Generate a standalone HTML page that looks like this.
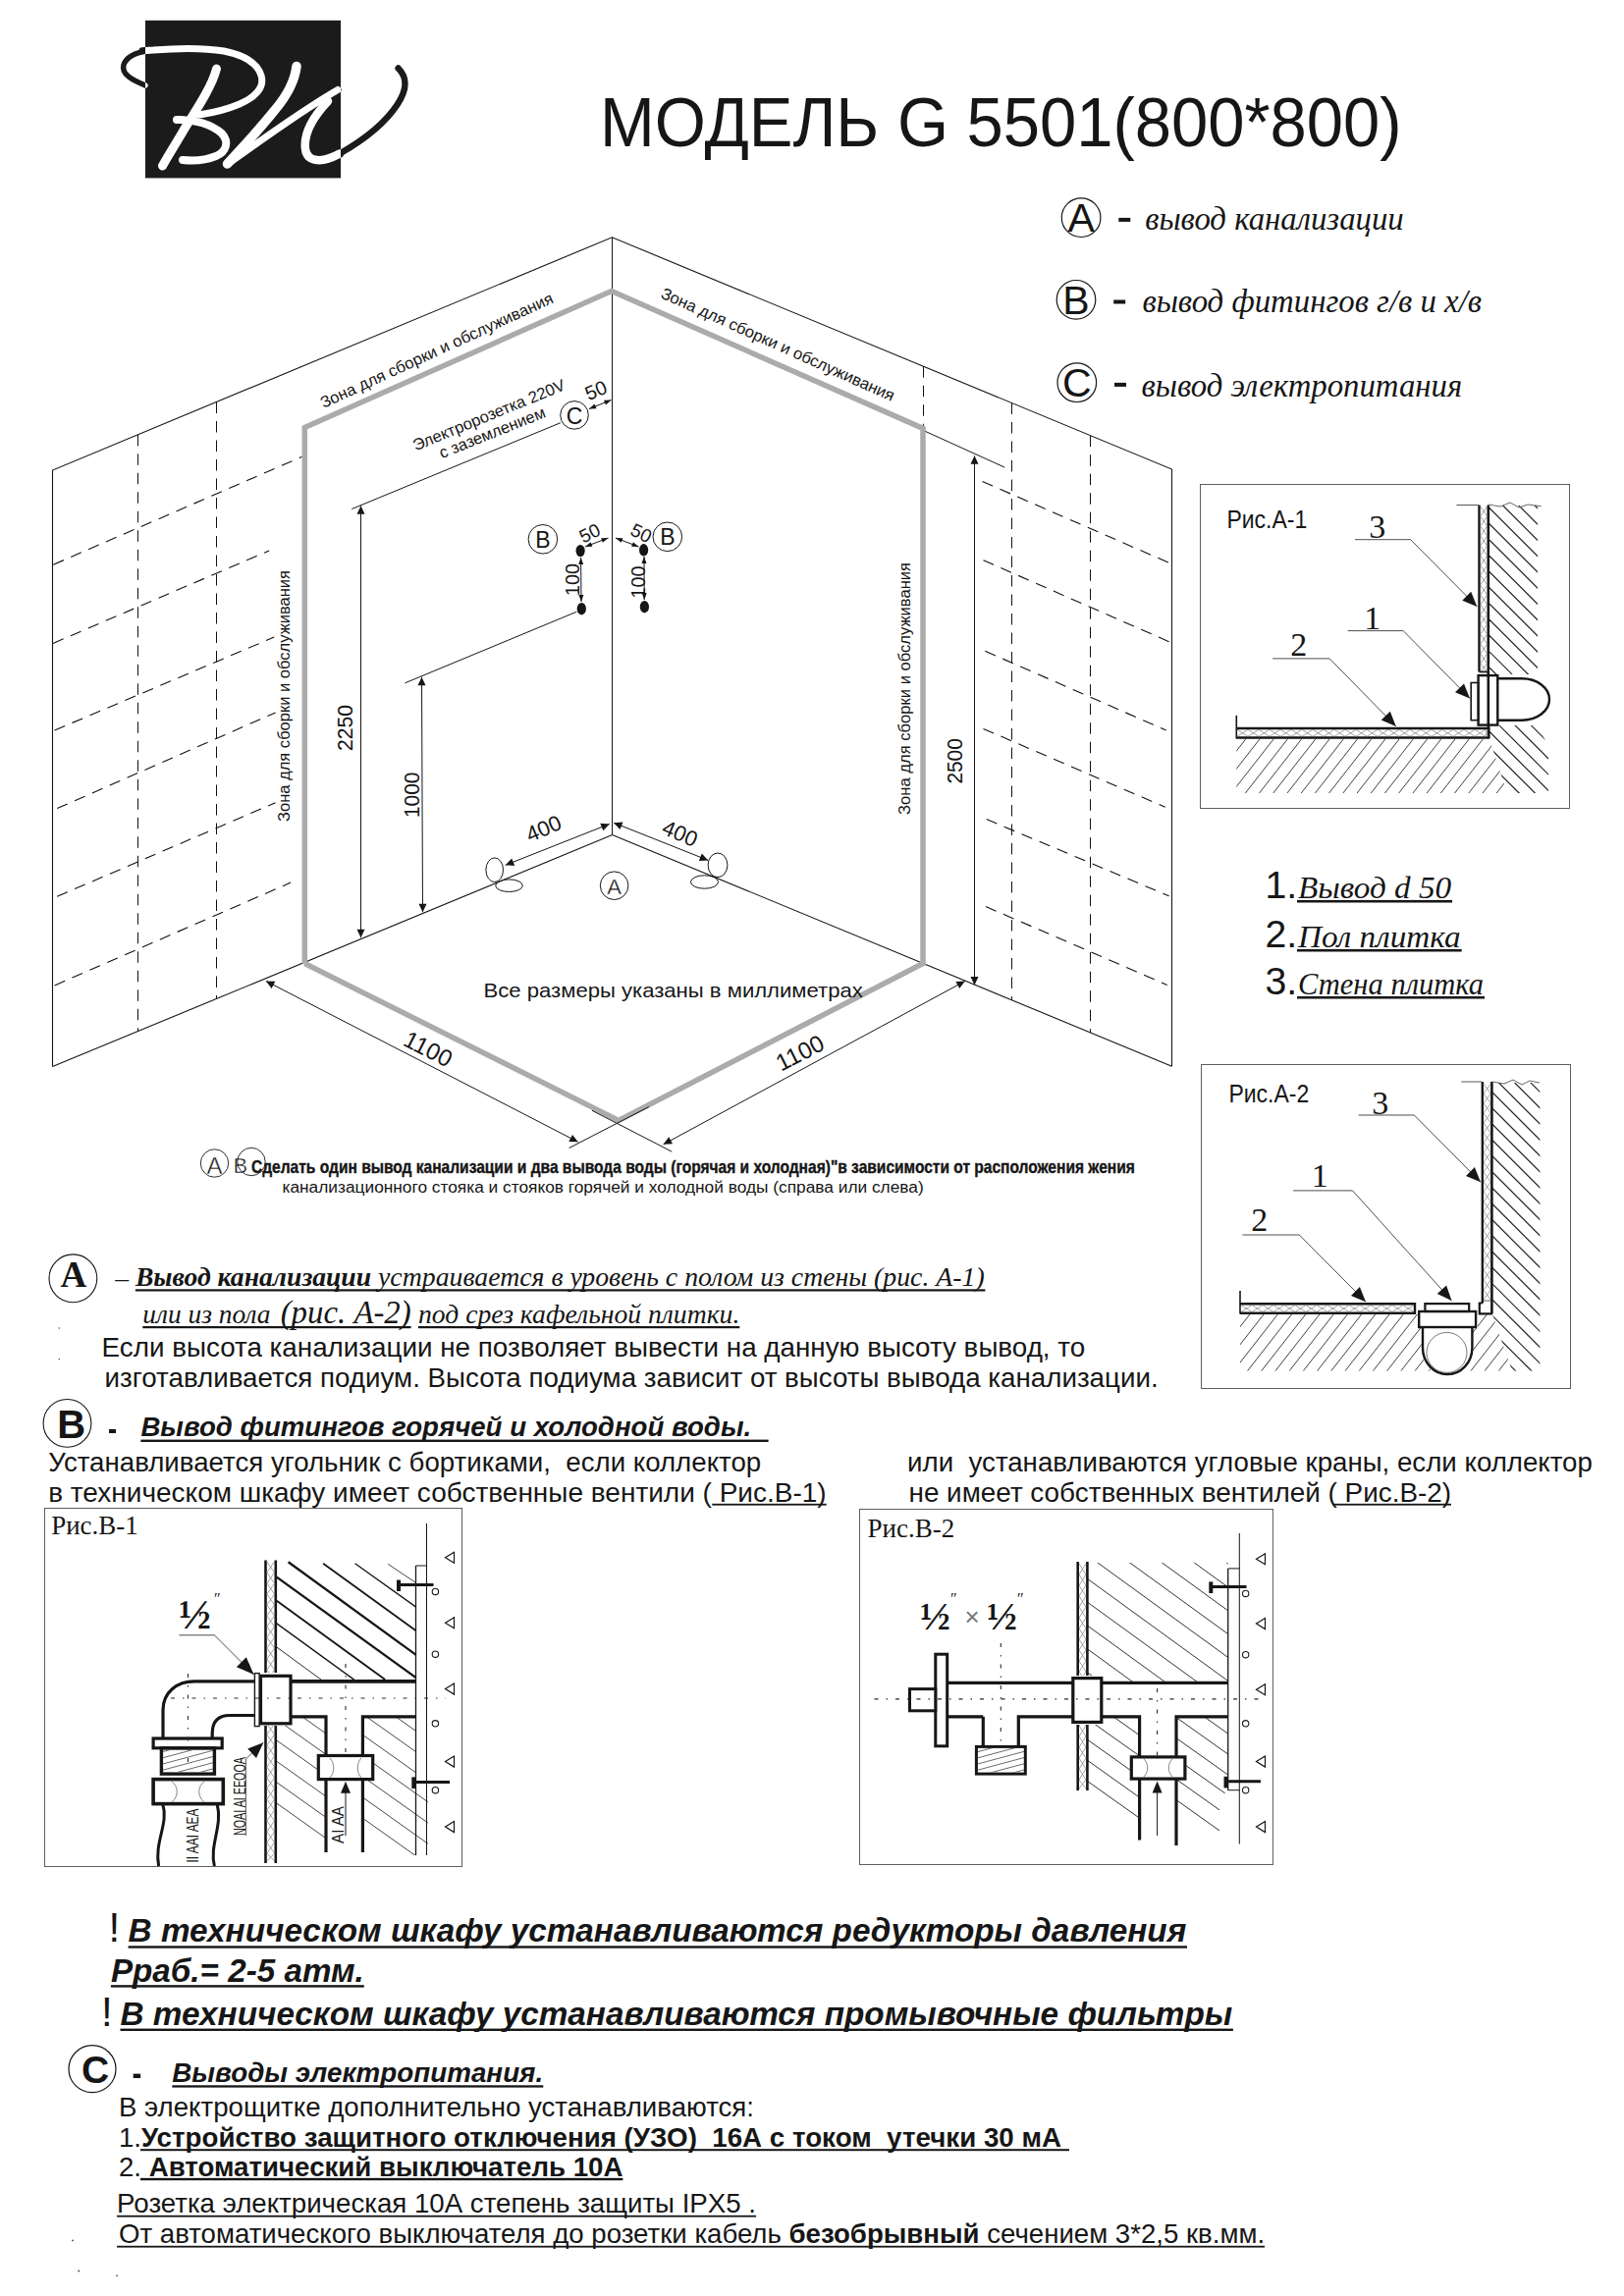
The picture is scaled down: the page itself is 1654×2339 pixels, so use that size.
<!DOCTYPE html>
<html><head><meta charset="utf-8"><title>Модель G 5501</title>
<style>
html,body{margin:0;padding:0;background:#fff;}
body{width:1654px;height:2339px;overflow:hidden;font-family:"Liberation Sans",sans-serif;}
svg{display:block;}
text{white-space:pre;}
</style></head>
<body>
<svg width="1654" height="2339" viewBox="0 0 1654 2339">
<rect x="0" y="0" width="1654" height="2339" fill="#fff"/>
<defs><clipPath id="lr"><rect x="148" y="20.8" width="199" height="160.6"/></clipPath><clipPath id="lo"><path d="M0,0 H460 V220 H0 Z M148,20.8 V181.4 H347 V20.8 Z" clip-rule="evenodd"/></clipPath></defs>
<rect x="148.0" y="20.8" width="199.0" height="160.6" fill="#1b1b1b" stroke="none" stroke-width="0"/>
<g stroke="#1b1b1b" clip-path="url(#lo)"><path d="M145,51.8 C150,51.3 153,51.1 156,51 C180,49 204,48 228,52 C248,56 262,64 266,77 C270,90 258,100 244,106 C230,112 216,115 203,117" fill="none" stroke-width="7.0" stroke-linecap="round"/><path d="M220.5,70 C216,88 200,112 188,131 C180,145 172,157 165.5,169" fill="none" stroke-width="9.0" stroke-linecap="round"/><path d="M180,122 C198,121 216,127 226,136 C234,145 230,155 220,159 C208,164 196,164 186,163" fill="none" stroke-width="8.0" stroke-linecap="round"/><path d="M302,67.5 C300,84 291,99 280,112 C264,132 247,150 231.5,167" fill="none" stroke-width="9.5" stroke-linecap="round"/><path d="M232,167 C262,146 305,114 344,91.5" fill="none" stroke-width="7.0" stroke-linecap="round"/><path d="M334,103 C318,120 309,137 311,152 C313,166 329,166 346,156.5" fill="none" stroke-width="8.5" stroke-linecap="round"/><path d="M346,156.5 C368,144 392,126 405,106 C414,92 416,80 405.6,69.5" fill="none" stroke-width="6.5" stroke-linecap="round"/><path d="M148,87 C136,82 123,76 126,66 C129,57 141,53 152,51.5" fill="none" stroke-width="5.5" stroke-linecap="round"/></g>
<g stroke="#ffffff" clip-path="url(#lr)"><path d="M145,51.8 C150,51.3 153,51.1 156,51 C180,49 204,48 228,52 C248,56 262,64 266,77 C270,90 258,100 244,106 C230,112 216,115 203,117" fill="none" stroke-width="7.0" stroke-linecap="round"/><path d="M220.5,70 C216,88 200,112 188,131 C180,145 172,157 165.5,169" fill="none" stroke-width="9.0" stroke-linecap="round"/><path d="M180,122 C198,121 216,127 226,136 C234,145 230,155 220,159 C208,164 196,164 186,163" fill="none" stroke-width="8.0" stroke-linecap="round"/><path d="M302,67.5 C300,84 291,99 280,112 C264,132 247,150 231.5,167" fill="none" stroke-width="9.5" stroke-linecap="round"/><path d="M232,167 C262,146 305,114 344,91.5" fill="none" stroke-width="7.0" stroke-linecap="round"/><path d="M334,103 C318,120 309,137 311,152 C313,166 329,166 346,156.5" fill="none" stroke-width="8.5" stroke-linecap="round"/><path d="M346,156.5 C368,144 392,126 405,106 C414,92 416,80 405.6,69.5" fill="none" stroke-width="6.5" stroke-linecap="round"/><path d="M148,87 C136,82 123,76 126,66 C129,57 141,53 152,51.5" fill="none" stroke-width="5.5" stroke-linecap="round"/></g>
<text x="611.0" y="149.0" font-family="Liberation Sans" font-size="69.5" font-weight="normal" font-style="normal" text-anchor="start" fill="#161616" textLength="816.6" lengthAdjust="spacingAndGlyphs" >МОДЕЛЬ G 5501(800*800)</text>
<circle cx="1101.1" cy="221.7" r="19.8" fill="none" stroke="#161616" stroke-width="1.2"/>
<text x="1101.1" y="235.9" font-family="Liberation Sans" font-size="41" font-weight="normal" font-style="normal" text-anchor="middle" fill="#161616" >A</text>
<rect x="1139.3" y="221.9" width="12" height="4" fill="#161616"/>
<text x="1166.2" y="233.9" font-family="Liberation Serif" font-size="33" font-weight="normal" font-style="italic" text-anchor="start" fill="#161616" textLength="263.5" lengthAdjust="spacingAndGlyphs" >вывод канализации</text>
<circle cx="1096.0" cy="305.3" r="19.8" fill="none" stroke="#161616" stroke-width="1.2"/>
<text x="1096.0" y="319.5" font-family="Liberation Sans" font-size="41" font-weight="normal" font-style="normal" text-anchor="middle" fill="#161616" >B</text>
<rect x="1134.2" y="305.5" width="12" height="4" fill="#161616"/>
<text x="1163.4" y="318.0" font-family="Liberation Serif" font-size="33" font-weight="normal" font-style="italic" text-anchor="start" fill="#161616" textLength="345.6" lengthAdjust="spacingAndGlyphs" >вывод фитингов г/в и х/в</text>
<circle cx="1096.8" cy="389.7" r="19.8" fill="none" stroke="#161616" stroke-width="1.2"/>
<text x="1096.8" y="403.9" font-family="Liberation Sans" font-size="41" font-weight="normal" font-style="normal" text-anchor="middle" fill="#161616" >C</text>
<rect x="1135.0" y="389.9" width="12" height="4" fill="#161616"/>
<text x="1162.5" y="403.9" font-family="Liberation Serif" font-size="33" font-weight="normal" font-style="italic" text-anchor="start" fill="#161616" textLength="326.7" lengthAdjust="spacingAndGlyphs" >вывод электропитания</text>
<polyline points="53.5,1086.6 53.5,479.0 623.4,241.8 1193.5,478.1 1193.5,1086.2" fill="none" stroke="#161616" stroke-width="1.1" />
<line x1="623.5" y1="241.8" x2="623.5" y2="850.5" stroke="#161616" stroke-width="1.0" />
<line x1="53.5" y1="1086.6" x2="623.6" y2="850.5" stroke="#161616" stroke-width="1.1" />
<line x1="623.6" y1="850.5" x2="1193.4" y2="1086.2" stroke="#161616" stroke-width="1.1" />
<line x1="140.5" y1="442.8" x2="140.5" y2="1050.6" stroke="#111" stroke-width="1.0" stroke-dasharray="11.5 8"/>
<line x1="220.5" y1="409.5" x2="220.5" y2="1017.4" stroke="#111" stroke-width="1.0" stroke-dasharray="11.5 8"/>
<line x1="1030.5" y1="410.5" x2="1030.5" y2="1018.8" stroke="#111" stroke-width="1.0" stroke-dasharray="11.5 8"/>
<line x1="1110.5" y1="443.7" x2="1110.5" y2="1051.9" stroke="#111" stroke-width="1.0" stroke-dasharray="11.5 8"/>
<line x1="940.5" y1="373.2" x2="940.5" y2="436.0" stroke="#111" stroke-width="1.0" stroke-dasharray="11.5 8"/>
<line x1="54.3" y1="575.2" x2="307.7" y2="465.3" stroke="#111" stroke-width="1.1" stroke-dasharray="11.5 8"/>
<line x1="54.0" y1="655.4" x2="274.1" y2="561.0" stroke="#111" stroke-width="1.1" stroke-dasharray="11.5 8"/>
<line x1="55.6" y1="744.0" x2="279.3" y2="649.0" stroke="#111" stroke-width="1.1" stroke-dasharray="11.5 8"/>
<line x1="58.2" y1="823.6" x2="280.6" y2="725.9" stroke="#111" stroke-width="1.1" stroke-dasharray="11.5 8"/>
<line x1="58.2" y1="913.3" x2="280.6" y2="817.7" stroke="#111" stroke-width="1.1" stroke-dasharray="11.5 8"/>
<line x1="55.6" y1="1003.9" x2="296.1" y2="899.1" stroke="#111" stroke-width="1.1" stroke-dasharray="11.5 8"/>
<line x1="1000.5" y1="490.5" x2="1193.6" y2="574.6" stroke="#111" stroke-width="1.1" stroke-dasharray="11.5 8"/>
<line x1="1001.5" y1="570.7" x2="1193.6" y2="655.0" stroke="#111" stroke-width="1.1" stroke-dasharray="11.5 8"/>
<line x1="1003.4" y1="663.3" x2="1187.7" y2="744.0" stroke="#111" stroke-width="1.1" stroke-dasharray="11.5 8"/>
<line x1="1001.5" y1="742.4" x2="1186.7" y2="822.2" stroke="#111" stroke-width="1.1" stroke-dasharray="11.5 8"/>
<line x1="1004.7" y1="834.6" x2="1190.6" y2="912.8" stroke="#111" stroke-width="1.1" stroke-dasharray="11.5 8"/>
<line x1="1004.0" y1="923.6" x2="1188.7" y2="1003.4" stroke="#111" stroke-width="1.1" stroke-dasharray="11.5 8"/>
<polyline points="310.3,981.5 310.3,435.6 622.8,296.5 940.0,436.4 940.0,981.5 630.0,1141.5 310.3,981.5" fill="none" stroke="#ababab" stroke-width="5.5" stroke-linejoin="miter"/>
<line x1="942.4" y1="439.4" x2="1023.2" y2="476.1" stroke="#161616" stroke-width="1.0" />
<line x1="367.5" y1="515.3" x2="367.5" y2="955.2" stroke="#161616" stroke-width="1.0" />
<polygon points="367.5,515.3 371.5,523.8 363.5,523.8" fill="#161616"/>
<polygon points="367.5,955.2 363.5,946.7 371.5,946.7" fill="#161616"/>
<line x1="358.3" y1="518.5" x2="570.9" y2="430.7" stroke="#161616" stroke-width="1.0" />
<line x1="429.5" y1="689.7" x2="430.5" y2="929.3" stroke="#161616" stroke-width="1.0" />
<polygon points="429.5,689.7 433.5,698.2 425.5,698.2" fill="#161616"/>
<polygon points="430.5,929.3 426.5,920.8 434.5,920.8" fill="#161616"/>
<line x1="412.5" y1="695.8" x2="587.4" y2="623.2" stroke="#161616" stroke-width="1.0" />
<line x1="992.5" y1="464.3" x2="992.5" y2="1003.4" stroke="#161616" stroke-width="1.0" />
<polygon points="992.5,464.3 996.5,472.8 988.5,472.8" fill="#161616"/>
<polygon points="992.5,1003.4 988.5,994.9 996.5,994.9" fill="#161616"/>
<line x1="270.9" y1="999.5" x2="588.7" y2="1163.3" stroke="#161616" stroke-width="1.0" />
<polygon points="270.9,999.5 280.3,999.8 276.6,1006.9" fill="#161616"/>
<polygon points="588.7,1163.3 579.3,1163.0 583.0,1155.9" fill="#161616"/>
<line x1="675.6" y1="1165.8" x2="982.8" y2="999.5" stroke="#161616" stroke-width="1.0" />
<polygon points="675.6,1165.8 681.2,1158.2 685.0,1165.3" fill="#161616"/>
<polygon points="982.8,999.5 977.2,1007.1 973.4,1000.0" fill="#161616"/>
<line x1="579.6" y1="1169.5" x2="660.8" y2="1127.6" stroke="#161616" stroke-width="1.0" />
<line x1="603.0" y1="1131.3" x2="684.2" y2="1173.2" stroke="#161616" stroke-width="1.0" />
<line x1="620.7" y1="839.4" x2="514.8" y2="881.3" stroke="#161616" stroke-width="1.0" />
<polygon points="620.7,839.4 614.3,846.2 611.3,838.8" fill="#161616"/>
<polygon points="514.8,881.3 521.2,874.5 524.2,881.9" fill="#161616"/>
<line x1="625.1" y1="838.2" x2="721.2" y2="876.4" stroke="#161616" stroke-width="1.0" />
<polygon points="625.1,838.2 634.5,837.6 631.5,845.1" fill="#161616"/>
<polygon points="721.2,876.4 711.8,877.0 714.8,869.5" fill="#161616"/>
<ellipse cx="503.7" cy="886.2" rx="8.8" ry="12.3" fill="none" stroke="#161616" stroke-width="1.0"/>
<ellipse cx="518.5" cy="902.2" rx="13.8" ry="6.3" fill="none" stroke="#161616" stroke-width="1.0"/>
<ellipse cx="731.0" cy="881.3" rx="9.9" ry="12.3" fill="none" stroke="#161616" stroke-width="1.0"/>
<ellipse cx="717.5" cy="898.5" rx="14.0" ry="6.7" fill="none" stroke="#161616" stroke-width="1.0"/>
<circle cx="625.6" cy="902.2" r="14.3" fill="none" stroke="#161616" stroke-width="1.0"/>
<text x="625.6" y="910.5" font-family="Liberation Sans" font-size="22" font-weight="normal" font-style="normal" text-anchor="middle" fill="#161616" stroke="#fff" stroke-width="0.3">A</text>
<circle cx="585.0" cy="422.9" r="14.3" fill="none" stroke="#161616" stroke-width="1.0"/>
<text x="585.0" y="431.5" font-family="Liberation Sans" font-size="23" font-weight="normal" font-style="normal" text-anchor="middle" fill="#161616" >C</text>
<line x1="600.0" y1="416.5" x2="622.5" y2="407.5" stroke="#161616" stroke-width="1.0" />
<polygon points="600.0,416.5 605.5,411.5 607.5,416.3" fill="#161616"/>
<polygon points="622.5,407.5 617.0,412.5 615.0,407.7" fill="#161616"/>
<text x="609.5" y="404.0" font-family="Liberation Sans" font-size="20" font-weight="normal" font-style="normal" text-anchor="middle" fill="#161616" transform="rotate(-22.00 609.5 404.0)" >50</text>
<circle cx="552.9" cy="549.3" r="14.8" fill="none" stroke="#161616" stroke-width="1.0"/>
<text x="552.9" y="557.8" font-family="Liberation Sans" font-size="23" font-weight="normal" font-style="normal" text-anchor="middle" fill="#161616" >B</text>
<circle cx="679.8" cy="546.8" r="14.8" fill="none" stroke="#161616" stroke-width="1.0"/>
<text x="679.8" y="555.3" font-family="Liberation Sans" font-size="23" font-weight="normal" font-style="normal" text-anchor="middle" fill="#161616" >B</text>
<ellipse cx="591.1" cy="561.1" rx="4.6" ry="6.2" fill="#161616" stroke="none" stroke-width="0"/>
<ellipse cx="592.3" cy="620.2" rx="4.6" ry="6.2" fill="#161616" stroke="none" stroke-width="0"/>
<ellipse cx="655.6" cy="560.3" rx="4.6" ry="6.2" fill="#161616" stroke="none" stroke-width="0"/>
<ellipse cx="656.4" cy="618.2" rx="4.6" ry="6.2" fill="#161616" stroke="none" stroke-width="0"/>
<line x1="591.6" y1="568.0" x2="592.0" y2="613.0" stroke="#161616" stroke-width="1.0" />
<polygon points="591.6,568.0 594.2,575.0 589.2,575.0" fill="#161616"/>
<polygon points="592.0,613.0 589.4,606.0 594.4,606.0" fill="#161616"/>
<line x1="656.0" y1="567.0" x2="656.2" y2="611.0" stroke="#161616" stroke-width="1.0" />
<polygon points="656.0,567.0 658.5,574.0 653.5,574.0" fill="#161616"/>
<polygon points="656.2,611.0 653.7,604.0 658.7,604.0" fill="#161616"/>
<line x1="596.0" y1="557.0" x2="619.5" y2="548.0" stroke="#161616" stroke-width="1.0" />
<polygon points="596.0,557.0 601.6,552.2 603.4,556.8" fill="#161616"/>
<polygon points="619.5,548.0 613.9,552.8 612.1,548.2" fill="#161616"/>
<line x1="627.0" y1="548.0" x2="650.5" y2="557.0" stroke="#161616" stroke-width="1.0" />
<polygon points="627.0,548.0 634.4,548.2 632.6,552.8" fill="#161616"/>
<polygon points="650.5,557.0 643.1,556.8 644.9,552.2" fill="#161616"/>
<text x="603.4" y="549.0" font-family="Liberation Sans" font-size="19" font-weight="normal" font-style="normal" text-anchor="middle" fill="#161616" transform="rotate(-26.00 603.4 549.0)" >50</text>
<text x="650.2" y="549.0" font-family="Liberation Sans" font-size="19" font-weight="normal" font-style="normal" text-anchor="middle" fill="#161616" transform="rotate(26.00 650.2 549.0)" >50</text>
<text x="589.5" y="590.5" font-family="Liberation Sans" font-size="20" font-weight="normal" font-style="normal" text-anchor="middle" fill="#161616" transform="rotate(-90.00 589.5 590.5)" >100</text>
<text x="657.2" y="593.0" font-family="Liberation Sans" font-size="20" font-weight="normal" font-style="normal" text-anchor="middle" fill="#161616" transform="rotate(-90.00 657.2 593.0)" >100</text>
<text x="359.3" y="741.5" font-family="Liberation Sans" font-size="22" font-weight="normal" font-style="normal" text-anchor="middle" fill="#161616" textLength="47.0" lengthAdjust="spacingAndGlyphs" transform="rotate(-90.00 359.3 741.5)" >2250</text>
<text x="427.2" y="809.8" font-family="Liberation Sans" font-size="22" font-weight="normal" font-style="normal" text-anchor="middle" fill="#161616" textLength="46.4" lengthAdjust="spacingAndGlyphs" transform="rotate(-90.00 427.2 809.8)" >1000</text>
<text x="979.8" y="775.4" font-family="Liberation Sans" font-size="22" font-weight="normal" font-style="normal" text-anchor="middle" fill="#161616" textLength="46.3" lengthAdjust="spacingAndGlyphs" transform="rotate(-90.00 979.8 775.4)" >2500</text>
<text x="556.6" y="851.0" font-family="Liberation Sans" font-size="22" font-weight="normal" font-style="normal" text-anchor="middle" fill="#161616" transform="rotate(-23.00 556.6 851.0)" >400</text>
<text x="689.6" y="856.0" font-family="Liberation Sans" font-size="22" font-weight="normal" font-style="normal" text-anchor="middle" fill="#161616" transform="rotate(23.00 689.6 856.0)" >400</text>
<text x="432.3" y="1076.0" font-family="Liberation Sans" font-size="24" font-weight="normal" font-style="normal" text-anchor="middle" fill="#161616" transform="rotate(27.00 432.3 1076.0)" >1100</text>
<text x="818.5" y="1080.0" font-family="Liberation Sans" font-size="24" font-weight="normal" font-style="normal" text-anchor="middle" fill="#161616" transform="rotate(-27.00 818.5 1080.0)" >1100</text>
<text x="447.1" y="362.0" font-family="Liberation Sans" font-size="16.5" font-weight="normal" font-style="normal" text-anchor="middle" fill="#161616" textLength="259.0" lengthAdjust="spacingAndGlyphs" transform="rotate(-24.70 447.1 362.0)" >Зона для сборки и обслуживания</text>
<text x="790.0" y="356.0" font-family="Liberation Sans" font-size="16.5" font-weight="normal" font-style="normal" text-anchor="middle" fill="#161616" textLength="259.0" lengthAdjust="spacingAndGlyphs" transform="rotate(24.20 790.0 356.0)" >Зона для сборки и обслуживания</text>
<text x="295.3" y="709.0" font-family="Liberation Sans" font-size="16.5" font-weight="normal" font-style="normal" text-anchor="middle" fill="#161616" textLength="256.0" lengthAdjust="spacingAndGlyphs" transform="rotate(-90.00 295.3 709.0)" >Зона для сборки и обслуживания</text>
<text x="926.6" y="701.4" font-family="Liberation Sans" font-size="16.5" font-weight="normal" font-style="normal" text-anchor="middle" fill="#161616" textLength="257.0" lengthAdjust="spacingAndGlyphs" transform="rotate(-90.00 926.6 701.4)" >Зона для сборки и обслуживания</text>
<text x="500.0" y="428.0" font-family="Liberation Sans" font-size="16.5" font-weight="normal" font-style="normal" text-anchor="middle" fill="#161616" textLength="166.0" lengthAdjust="spacingAndGlyphs" transform="rotate(-22.30 500.0 428.0)" >Электророзетка 220V</text>
<text x="503.3" y="445.9" font-family="Liberation Sans" font-size="16.5" font-weight="normal" font-style="normal" text-anchor="middle" fill="#161616" textLength="115.0" lengthAdjust="spacingAndGlyphs" transform="rotate(-21.80 503.3 445.9)" >с заземлением</text>
<text x="492.6" y="1015.5" font-family="Liberation Sans" font-size="21" font-weight="normal" font-style="normal" text-anchor="start" fill="#161616" textLength="386.2" lengthAdjust="spacingAndGlyphs" >Все размеры указаны в миллиметрах</text>
<circle cx="218.5" cy="1185.0" r="14.2" fill="none" stroke="#161616" stroke-width="0.9"/>
<text x="218.5" y="1195.5" font-family="Liberation Sans" font-size="24" font-weight="normal" font-style="normal" text-anchor="middle" fill="#161616" stroke="#fff" stroke-width="0.45">A</text>
<text x="237.5" y="1195.0" font-family="Liberation Sans" font-size="22" font-weight="normal" font-style="normal" text-anchor="start" fill="#161616" stroke="#fff" stroke-width="0.45">B</text>
<circle cx="256.0" cy="1183.5" r="14.2" fill="none" stroke="#161616" stroke-width="0.9"/>
<text x="256.0" y="1194.6" font-family="Liberation Sans" font-size="18.6" font-weight="bold" font-style="normal" text-anchor="start" fill="#161616" textLength="899.8" lengthAdjust="spacingAndGlyphs" stroke="#161616" stroke-width="0.4">Сделать один вывод канализации и два вывода воды (горячая и холодная)"в зависимости от расположения жения</text>
<text x="287.5" y="1214.6" font-family="Liberation Sans" font-size="17.3" font-weight="normal" font-style="normal" text-anchor="start" fill="#161616" textLength="653.2" lengthAdjust="spacingAndGlyphs" >канализационного стояка и стояков горячей и холодной воды (справа или слева)</text>
<rect x="1222.5" y="493.5" width="376.0" height="330.0" fill="none" stroke="#5e5e5e" stroke-width="1.0"/>
<text x="1249.4" y="538.4" font-family="Liberation Sans" font-size="25" font-weight="normal" font-style="normal" text-anchor="start" fill="#161616" textLength="81.8" lengthAdjust="spacingAndGlyphs" >Рис.А-1</text>
<clipPath id="h1"><polygon points="1517.0,515.0 1566.0,515.0 1566.0,740.0 1577.0,760.0 1577.0,808.0 1535.0,808.0 1517.0,753.0"/></clipPath><g clip-path="url(#h1)" stroke="#222" stroke-width="1.2"><line x1="1547.0" y1="433.8" x2="1774.7" y2="661.5"/><line x1="1538.9" y1="441.9" x2="1766.6" y2="669.6"/><line x1="1530.7" y1="450.0" x2="1758.5" y2="677.8"/><line x1="1522.6" y1="458.2" x2="1750.3" y2="685.9"/><line x1="1514.5" y1="466.3" x2="1742.2" y2="694.0"/><line x1="1506.3" y1="474.4" x2="1734.1" y2="702.2"/><line x1="1498.2" y1="482.5" x2="1726.0" y2="710.3"/><line x1="1490.1" y1="490.7" x2="1717.8" y2="718.4"/><line x1="1481.9" y1="498.8" x2="1709.7" y2="726.6"/><line x1="1473.8" y1="506.9" x2="1701.6" y2="734.7"/><line x1="1465.7" y1="515.1" x2="1693.4" y2="742.8"/><line x1="1457.6" y1="523.2" x2="1685.3" y2="750.9"/><line x1="1449.4" y1="531.3" x2="1677.2" y2="759.1"/><line x1="1441.3" y1="539.5" x2="1669.0" y2="767.2"/><line x1="1433.2" y1="547.6" x2="1660.9" y2="775.3"/><line x1="1425.0" y1="555.7" x2="1652.8" y2="783.5"/><line x1="1416.9" y1="563.9" x2="1644.6" y2="791.6"/><line x1="1408.8" y1="572.0" x2="1636.5" y2="799.7"/><line x1="1400.6" y1="580.1" x2="1628.4" y2="807.9"/><line x1="1392.5" y1="588.3" x2="1620.2" y2="816.0"/><line x1="1384.4" y1="596.4" x2="1612.1" y2="824.1"/><line x1="1376.2" y1="604.5" x2="1604.0" y2="832.3"/><line x1="1368.1" y1="612.7" x2="1595.8" y2="840.4"/><line x1="1360.0" y1="620.8" x2="1587.7" y2="848.5"/><line x1="1351.8" y1="628.9" x2="1579.6" y2="856.7"/><line x1="1343.7" y1="637.0" x2="1571.5" y2="864.8"/><line x1="1335.6" y1="645.2" x2="1563.3" y2="872.9"/><line x1="1327.4" y1="653.3" x2="1555.2" y2="881.1"/><line x1="1319.3" y1="661.4" x2="1547.1" y2="889.2"/></g>
<clipPath id="h2"><polygon points="1259.3,753.0 1517.0,753.0 1535.0,808.0 1259.3,808.0"/></clipPath><g clip-path="url(#h2)" stroke="#2a2a2a" stroke-width="0.9"><line x1="1184.1" y1="806.7" x2="1371.0" y2="567.5"/><line x1="1192.9" y1="813.6" x2="1379.8" y2="574.4"/><line x1="1201.8" y1="820.4" x2="1388.6" y2="581.3"/><line x1="1210.6" y1="827.3" x2="1397.5" y2="588.2"/><line x1="1219.4" y1="834.2" x2="1406.3" y2="595.1"/><line x1="1228.2" y1="841.1" x2="1415.1" y2="601.9"/><line x1="1237.1" y1="848.0" x2="1423.9" y2="608.8"/><line x1="1245.9" y1="854.9" x2="1432.8" y2="615.7"/><line x1="1254.7" y1="861.8" x2="1441.6" y2="622.6"/><line x1="1263.6" y1="868.7" x2="1450.4" y2="629.5"/><line x1="1272.4" y1="875.6" x2="1459.3" y2="636.4"/><line x1="1281.2" y1="882.5" x2="1468.1" y2="643.3"/><line x1="1290.0" y1="889.4" x2="1476.9" y2="650.2"/><line x1="1298.9" y1="896.3" x2="1485.7" y2="657.1"/><line x1="1307.7" y1="903.2" x2="1494.6" y2="664.0"/><line x1="1316.5" y1="910.1" x2="1503.4" y2="670.9"/><line x1="1325.3" y1="917.0" x2="1512.2" y2="677.8"/><line x1="1334.2" y1="923.9" x2="1521.0" y2="684.7"/><line x1="1343.0" y1="930.8" x2="1529.9" y2="691.6"/><line x1="1351.8" y1="937.7" x2="1538.7" y2="698.5"/><line x1="1360.6" y1="944.6" x2="1547.5" y2="705.4"/><line x1="1369.5" y1="951.5" x2="1556.3" y2="712.3"/><line x1="1378.3" y1="958.4" x2="1565.2" y2="719.2"/><line x1="1387.1" y1="965.3" x2="1574.0" y2="726.1"/><line x1="1395.9" y1="972.1" x2="1582.8" y2="733.0"/><line x1="1404.8" y1="979.0" x2="1591.6" y2="739.9"/><line x1="1413.6" y1="985.9" x2="1600.5" y2="746.8"/><line x1="1422.4" y1="992.8" x2="1609.3" y2="753.6"/></g>
<rect x="1498" y="687" width="81" height="52" fill="#fff"/>
<line x1="1506.5" y1="514.5" x2="1506.5" y2="684.4" stroke="#161616" stroke-width="2.4" />
<line x1="1515.8" y1="514.5" x2="1515.8" y2="741.0" stroke="#161616" stroke-width="2.6" />
<line x1="1506.5" y1="684.4" x2="1515.8" y2="684.4" stroke="#161616" stroke-width="1.8" />
<path d="M1507.7,516.0 L1514.6,526.0 M1514.6,516.0 L1507.7,526.0 M1507.7,526.0 L1514.6,536.0 M1514.6,526.0 L1507.7,536.0 M1507.7,536.0 L1514.6,546.0 M1514.6,536.0 L1507.7,546.0 M1507.7,546.0 L1514.6,556.0 M1514.6,546.0 L1507.7,556.0 M1507.7,556.0 L1514.6,566.0 M1514.6,556.0 L1507.7,566.0 M1507.7,566.0 L1514.6,576.0 M1514.6,566.0 L1507.7,576.0 M1507.7,576.0 L1514.6,586.0 M1514.6,576.0 L1507.7,586.0 M1507.7,586.0 L1514.6,596.0 M1514.6,586.0 L1507.7,596.0 M1507.7,596.0 L1514.6,606.0 M1514.6,596.0 L1507.7,606.0 M1507.7,606.0 L1514.6,616.0 M1514.6,606.0 L1507.7,616.0 M1507.7,616.0 L1514.6,626.0 M1514.6,616.0 L1507.7,626.0 M1507.7,626.0 L1514.6,636.0 M1514.6,626.0 L1507.7,636.0 M1507.7,636.0 L1514.6,646.0 M1514.6,636.0 L1507.7,646.0 M1507.7,646.0 L1514.6,656.0 M1514.6,646.0 L1507.7,656.0 M1507.7,656.0 L1514.6,666.0 M1514.6,656.0 L1507.7,666.0 M1507.7,666.0 L1514.6,676.0 M1514.6,666.0 L1507.7,676.0 M1507.7,676.0 L1514.6,684.0 M1514.6,676.0 L1507.7,684.0" stroke="#7a7a7a" stroke-width="0.7" fill="none"/>
<line x1="1483.4" y1="514.5" x2="1506.0" y2="514.5" stroke="#555" stroke-width="1.0" />
<polyline points="1516.0,514.0 1528.0,516.0 1538.0,512.0 1547.0,517.0 1556.0,514.0 1569.6,515.7" fill="none" stroke="#555" stroke-width="0.9" />
<line x1="1259.3" y1="742.0" x2="1516.5" y2="742.0" stroke="#161616" stroke-width="2.6" />
<line x1="1259.3" y1="751.5" x2="1516.5" y2="751.5" stroke="#161616" stroke-width="2.6" />
<line x1="1516.3" y1="740.5" x2="1516.3" y2="752.5" stroke="#161616" stroke-width="2.6" />
<line x1="1259.3" y1="728.8" x2="1259.3" y2="752.5" stroke="#161616" stroke-width="1.6" />
<path d="M1260.0,743.2 L1271.0,750.3 M1260.0,750.3 L1271.0,743.2 M1271.0,743.2 L1282.0,750.3 M1271.0,750.3 L1282.0,743.2 M1282.0,743.2 L1293.0,750.3 M1282.0,750.3 L1293.0,743.2 M1293.0,743.2 L1304.0,750.3 M1293.0,750.3 L1304.0,743.2 M1304.0,743.2 L1315.0,750.3 M1304.0,750.3 L1315.0,743.2 M1315.0,743.2 L1326.0,750.3 M1315.0,750.3 L1326.0,743.2 M1326.0,743.2 L1337.0,750.3 M1326.0,750.3 L1337.0,743.2 M1337.0,743.2 L1348.0,750.3 M1337.0,750.3 L1348.0,743.2 M1348.0,743.2 L1359.0,750.3 M1348.0,750.3 L1359.0,743.2 M1359.0,743.2 L1370.0,750.3 M1359.0,750.3 L1370.0,743.2 M1370.0,743.2 L1381.0,750.3 M1370.0,750.3 L1381.0,743.2 M1381.0,743.2 L1392.0,750.3 M1381.0,750.3 L1392.0,743.2 M1392.0,743.2 L1403.0,750.3 M1392.0,750.3 L1403.0,743.2 M1403.0,743.2 L1414.0,750.3 M1403.0,750.3 L1414.0,743.2 M1414.0,743.2 L1425.0,750.3 M1414.0,750.3 L1425.0,743.2 M1425.0,743.2 L1436.0,750.3 M1425.0,750.3 L1436.0,743.2 M1436.0,743.2 L1447.0,750.3 M1436.0,750.3 L1447.0,743.2 M1447.0,743.2 L1458.0,750.3 M1447.0,750.3 L1458.0,743.2 M1458.0,743.2 L1469.0,750.3 M1458.0,750.3 L1469.0,743.2 M1469.0,743.2 L1480.0,750.3 M1469.0,750.3 L1480.0,743.2 M1480.0,743.2 L1491.0,750.3 M1480.0,750.3 L1491.0,743.2 M1491.0,743.2 L1502.0,750.3 M1491.0,750.3 L1502.0,743.2 M1502.0,743.2 L1513.0,750.3 M1502.0,750.3 L1513.0,743.2 M1513.0,743.2 L1515.0,750.3 M1513.0,750.3 L1515.0,743.2" stroke="#7a7a7a" stroke-width="0.7" fill="none"/>
<rect x="1498.2" y="695.5" width="7.4" height="38.2" fill="none" stroke="#161616" stroke-width="1.6"/>
<rect x="1505.6" y="688.1" width="19.7" height="50.5" fill="none" stroke="#161616" stroke-width="2.4"/>
<path d="M1525.3,691.3 H1550 A28,21.2 0 0 1 1550,733.7 H1525.3" fill="none" stroke="#161616" stroke-width="2.4"/>
<text x="1402.7" y="547.7" font-family="Liberation Serif" font-size="34" font-weight="normal" font-style="normal" text-anchor="middle" fill="#161616" >3</text>
<text x="1397.8" y="641.3" font-family="Liberation Serif" font-size="34" font-weight="normal" font-style="normal" text-anchor="middle" fill="#161616" >1</text>
<text x="1322.7" y="668.4" font-family="Liberation Serif" font-size="34" font-weight="normal" font-style="normal" text-anchor="middle" fill="#161616" >2</text>
<polyline points="1380.0,549.7 1436.6,549.7 1504.3,617.9" fill="none" stroke="#3a3a3a" stroke-width="0.9" />
<polygon points="1504.3,617.9 1489.3,611.7 1498.2,602.8" fill="#161616"/>
<polyline points="1372.6,642.6 1429.2,642.6 1497.0,711.5" fill="none" stroke="#3a3a3a" stroke-width="0.9" />
<polygon points="1497.0,711.5 1482.0,705.2 1491.0,696.4" fill="#161616"/>
<polyline points="1296.2,670.9 1354.1,670.9 1421.8,739.9" fill="none" stroke="#3a3a3a" stroke-width="0.9" />
<polygon points="1421.8,739.9 1406.8,733.6 1415.8,724.8" fill="#161616"/>
<text x="1288.4" y="914.5" font-family="Liberation Sans" font-size="38" font-weight="normal" font-style="normal" text-anchor="start" fill="#161616" textLength="32.7" lengthAdjust="spacingAndGlyphs" >1.</text>
<text x="1322.0" y="914.5" font-family="Liberation Serif" font-size="32.5" font-weight="normal" font-style="italic" text-anchor="start" fill="#161616" textLength="156.1" lengthAdjust="spacingAndGlyphs" >Вывод d 50</text>
<rect x="1321" y="916.9" width="158.1" height="2.6" fill="#161616"/>
<text x="1288.4" y="964.5" font-family="Liberation Sans" font-size="38" font-weight="normal" font-style="normal" text-anchor="start" fill="#161616" textLength="32.7" lengthAdjust="spacingAndGlyphs" >2.</text>
<text x="1322.0" y="964.5" font-family="Liberation Serif" font-size="32.5" font-weight="normal" font-style="italic" text-anchor="start" fill="#161616" textLength="165.7" lengthAdjust="spacingAndGlyphs" >Пол плитка</text>
<rect x="1321" y="966.9" width="167.7" height="2.6" fill="#161616"/>
<text x="1288.4" y="1012.5" font-family="Liberation Sans" font-size="38" font-weight="normal" font-style="normal" text-anchor="start" fill="#161616" textLength="32.7" lengthAdjust="spacingAndGlyphs" >3.</text>
<text x="1322.0" y="1012.5" font-family="Liberation Serif" font-size="32.5" font-weight="normal" font-style="italic" text-anchor="start" fill="#161616" textLength="189.0" lengthAdjust="spacingAndGlyphs" >Стена плитка</text>
<rect x="1321" y="1014.9" width="191.0" height="2.6" fill="#161616"/>
<rect x="1223.5" y="1084.5" width="376.0" height="330.0" fill="none" stroke="#5e5e5e" stroke-width="1.0"/>
<text x="1251.4" y="1123.0" font-family="Liberation Sans" font-size="25" font-weight="normal" font-style="normal" text-anchor="start" fill="#161616" textLength="81.8" lengthAdjust="spacingAndGlyphs" >Рис.А-2</text>
<clipPath id="h3"><polygon points="1520.0,1103.0 1568.4,1103.0 1568.4,1396.4 1540.0,1396.4 1520.0,1339.0"/></clipPath><g clip-path="url(#h3)" stroke="#222" stroke-width="1.2"><line x1="1544.2" y1="1023.2" x2="1770.7" y2="1249.7"/><line x1="1536.1" y1="1031.3" x2="1762.6" y2="1257.8"/><line x1="1527.9" y1="1039.4" x2="1754.5" y2="1266.0"/><line x1="1519.8" y1="1047.6" x2="1746.3" y2="1274.1"/><line x1="1511.7" y1="1055.7" x2="1738.2" y2="1282.2"/><line x1="1503.5" y1="1063.8" x2="1730.1" y2="1290.4"/><line x1="1495.4" y1="1072.0" x2="1721.9" y2="1298.5"/><line x1="1487.3" y1="1080.1" x2="1713.8" y2="1306.6"/><line x1="1479.1" y1="1088.2" x2="1705.7" y2="1314.8"/><line x1="1471.0" y1="1096.4" x2="1697.5" y2="1322.9"/><line x1="1462.9" y1="1104.5" x2="1689.4" y2="1331.0"/><line x1="1454.8" y1="1112.6" x2="1681.3" y2="1339.1"/><line x1="1446.6" y1="1120.7" x2="1673.2" y2="1347.3"/><line x1="1438.5" y1="1128.9" x2="1665.0" y2="1355.4"/><line x1="1430.4" y1="1137.0" x2="1656.9" y2="1363.5"/><line x1="1422.2" y1="1145.1" x2="1648.8" y2="1371.7"/><line x1="1414.1" y1="1153.3" x2="1640.6" y2="1379.8"/><line x1="1406.0" y1="1161.4" x2="1632.5" y2="1387.9"/><line x1="1397.8" y1="1169.5" x2="1624.4" y2="1396.1"/><line x1="1389.7" y1="1177.7" x2="1616.2" y2="1404.2"/><line x1="1381.6" y1="1185.8" x2="1608.1" y2="1412.3"/><line x1="1373.4" y1="1193.9" x2="1600.0" y2="1420.5"/><line x1="1365.3" y1="1202.1" x2="1591.8" y2="1428.6"/><line x1="1357.2" y1="1210.2" x2="1583.7" y2="1436.7"/><line x1="1349.0" y1="1218.3" x2="1575.6" y2="1444.9"/><line x1="1340.9" y1="1226.5" x2="1567.4" y2="1453.0"/><line x1="1332.8" y1="1234.6" x2="1559.3" y2="1461.1"/><line x1="1324.6" y1="1242.7" x2="1551.2" y2="1469.3"/></g>
<clipPath id="h4"><polygon points="1263.0,1339.0 1520.0,1339.0 1540.0,1396.4 1263.0,1396.4"/></clipPath><g clip-path="url(#h4)" stroke="#2a2a2a" stroke-width="0.9"><line x1="1187.2" y1="1394.0" x2="1375.2" y2="1153.4"/><line x1="1196.1" y1="1400.9" x2="1384.0" y2="1160.3"/><line x1="1204.9" y1="1407.8" x2="1392.8" y2="1167.2"/><line x1="1213.7" y1="1414.7" x2="1401.7" y2="1174.1"/><line x1="1222.5" y1="1421.6" x2="1410.5" y2="1181.0"/><line x1="1231.4" y1="1428.5" x2="1419.3" y2="1187.9"/><line x1="1240.2" y1="1435.4" x2="1428.1" y2="1194.8"/><line x1="1249.0" y1="1442.3" x2="1437.0" y2="1201.7"/><line x1="1257.8" y1="1449.2" x2="1445.8" y2="1208.6"/><line x1="1266.7" y1="1456.1" x2="1454.6" y2="1215.5"/><line x1="1275.5" y1="1463.0" x2="1463.4" y2="1222.4"/><line x1="1284.3" y1="1469.9" x2="1472.3" y2="1229.3"/><line x1="1293.1" y1="1476.8" x2="1481.1" y2="1236.2"/><line x1="1302.0" y1="1483.6" x2="1489.9" y2="1243.1"/><line x1="1310.8" y1="1490.5" x2="1498.8" y2="1250.0"/><line x1="1319.6" y1="1497.4" x2="1507.6" y2="1256.9"/><line x1="1328.5" y1="1504.3" x2="1516.4" y2="1263.8"/><line x1="1337.3" y1="1511.2" x2="1525.2" y2="1270.7"/><line x1="1346.1" y1="1518.1" x2="1534.1" y2="1277.6"/><line x1="1354.9" y1="1525.0" x2="1542.9" y2="1284.5"/><line x1="1363.8" y1="1531.9" x2="1551.7" y2="1291.3"/><line x1="1372.6" y1="1538.8" x2="1560.5" y2="1298.2"/><line x1="1381.4" y1="1545.7" x2="1569.4" y2="1305.1"/><line x1="1390.2" y1="1552.6" x2="1578.2" y2="1312.0"/><line x1="1399.1" y1="1559.5" x2="1587.0" y2="1318.9"/><line x1="1407.9" y1="1566.4" x2="1595.8" y2="1325.8"/><line x1="1416.7" y1="1573.3" x2="1604.7" y2="1332.7"/><line x1="1425.5" y1="1580.2" x2="1613.5" y2="1339.6"/></g>
<path d="M1444,1327 H1505 V1353 H1500 V1375 A26,27 0 0 1 1448,1375 V1353 H1444 Z" fill="#fff"/>
<line x1="1509.8" y1="1102.0" x2="1509.8" y2="1327.5" stroke="#161616" stroke-width="2.4" />
<line x1="1519.4" y1="1102.0" x2="1519.4" y2="1338.5" stroke="#161616" stroke-width="2.6" />
<polyline points="1509.8,1327.5 1506.8,1327.5 1506.8,1338.3 1520.0,1338.3" fill="none" stroke="#161616" stroke-width="2.2" />
<path d="M1511.0,1104.0 L1518.2,1114.0 M1518.2,1104.0 L1511.0,1114.0 M1511.0,1114.0 L1518.2,1124.0 M1518.2,1114.0 L1511.0,1124.0 M1511.0,1124.0 L1518.2,1134.0 M1518.2,1124.0 L1511.0,1134.0 M1511.0,1134.0 L1518.2,1144.0 M1518.2,1134.0 L1511.0,1144.0 M1511.0,1144.0 L1518.2,1154.0 M1518.2,1144.0 L1511.0,1154.0 M1511.0,1154.0 L1518.2,1164.0 M1518.2,1154.0 L1511.0,1164.0 M1511.0,1164.0 L1518.2,1174.0 M1518.2,1164.0 L1511.0,1174.0 M1511.0,1174.0 L1518.2,1184.0 M1518.2,1174.0 L1511.0,1184.0 M1511.0,1184.0 L1518.2,1194.0 M1518.2,1184.0 L1511.0,1194.0 M1511.0,1194.0 L1518.2,1204.0 M1518.2,1194.0 L1511.0,1204.0 M1511.0,1204.0 L1518.2,1214.0 M1518.2,1204.0 L1511.0,1214.0 M1511.0,1214.0 L1518.2,1224.0 M1518.2,1214.0 L1511.0,1224.0 M1511.0,1224.0 L1518.2,1234.0 M1518.2,1224.0 L1511.0,1234.0 M1511.0,1234.0 L1518.2,1244.0 M1518.2,1234.0 L1511.0,1244.0 M1511.0,1244.0 L1518.2,1254.0 M1518.2,1244.0 L1511.0,1254.0 M1511.0,1254.0 L1518.2,1264.0 M1518.2,1254.0 L1511.0,1264.0 M1511.0,1264.0 L1518.2,1274.0 M1518.2,1264.0 L1511.0,1274.0 M1511.0,1274.0 L1518.2,1284.0 M1518.2,1274.0 L1511.0,1284.0 M1511.0,1284.0 L1518.2,1294.0 M1518.2,1284.0 L1511.0,1294.0 M1511.0,1294.0 L1518.2,1304.0 M1518.2,1294.0 L1511.0,1304.0 M1511.0,1304.0 L1518.2,1314.0 M1518.2,1304.0 L1511.0,1314.0 M1511.0,1314.0 L1518.2,1324.0 M1518.2,1314.0 L1511.0,1324.0 M1511.0,1324.0 L1518.2,1326.0 M1518.2,1324.0 L1511.0,1326.0" stroke="#7a7a7a" stroke-width="0.7" fill="none"/>
<line x1="1488.3" y1="1102.0" x2="1509.0" y2="1102.0" stroke="#555" stroke-width="1.0" />
<polyline points="1520.0,1102.0 1532.0,1104.0 1541.0,1100.0 1550.0,1105.0 1558.0,1101.0 1568.0,1103.0" fill="none" stroke="#555" stroke-width="0.9" />
<line x1="1263.0" y1="1328.3" x2="1441.5" y2="1328.3" stroke="#161616" stroke-width="2.6" />
<line x1="1263.0" y1="1337.7" x2="1441.5" y2="1337.7" stroke="#161616" stroke-width="2.6" />
<line x1="1441.0" y1="1327.0" x2="1441.0" y2="1339.0" stroke="#161616" stroke-width="2.4" />
<line x1="1263.0" y1="1315.0" x2="1263.0" y2="1338.5" stroke="#161616" stroke-width="1.6" />
<path d="M1264.0,1329.5 L1275.0,1336.5 M1264.0,1336.5 L1275.0,1329.5 M1275.0,1329.5 L1286.0,1336.5 M1275.0,1336.5 L1286.0,1329.5 M1286.0,1329.5 L1297.0,1336.5 M1286.0,1336.5 L1297.0,1329.5 M1297.0,1329.5 L1308.0,1336.5 M1297.0,1336.5 L1308.0,1329.5 M1308.0,1329.5 L1319.0,1336.5 M1308.0,1336.5 L1319.0,1329.5 M1319.0,1329.5 L1330.0,1336.5 M1319.0,1336.5 L1330.0,1329.5 M1330.0,1329.5 L1341.0,1336.5 M1330.0,1336.5 L1341.0,1329.5 M1341.0,1329.5 L1352.0,1336.5 M1341.0,1336.5 L1352.0,1329.5 M1352.0,1329.5 L1363.0,1336.5 M1352.0,1336.5 L1363.0,1329.5 M1363.0,1329.5 L1374.0,1336.5 M1363.0,1336.5 L1374.0,1329.5 M1374.0,1329.5 L1385.0,1336.5 M1374.0,1336.5 L1385.0,1329.5 M1385.0,1329.5 L1396.0,1336.5 M1385.0,1336.5 L1396.0,1329.5 M1396.0,1329.5 L1407.0,1336.5 M1396.0,1336.5 L1407.0,1329.5 M1407.0,1329.5 L1418.0,1336.5 M1407.0,1336.5 L1418.0,1329.5 M1418.0,1329.5 L1429.0,1336.5 M1418.0,1336.5 L1429.0,1329.5 M1429.0,1329.5 L1440.0,1336.5 M1429.0,1336.5 L1440.0,1329.5" stroke="#7a7a7a" stroke-width="0.7" fill="none"/>
<rect x="1451.4" y="1328.1" width="44.8" height="7.9" fill="none" stroke="#161616" stroke-width="2.2"/>
<rect x="1445.2" y="1336.0" width="57.9" height="16.0" fill="none" stroke="#161616" stroke-width="2.4"/>
<path d="M1449,1352 V1373 A25.2,27 0 0 0 1499.4,1373 V1352" fill="none" stroke="#161616" stroke-width="2.4"/>
<circle cx="1473.5" cy="1377.9" r="20.5" fill="none" stroke="#666" stroke-width="0.9"/>
<text x="1405.8" y="1134.5" font-family="Liberation Serif" font-size="34" font-weight="normal" font-style="normal" text-anchor="middle" fill="#161616" >3</text>
<text x="1344.2" y="1209.2" font-family="Liberation Serif" font-size="34" font-weight="normal" font-style="normal" text-anchor="middle" fill="#161616" >1</text>
<text x="1282.7" y="1253.5" font-family="Liberation Serif" font-size="34" font-weight="normal" font-style="normal" text-anchor="middle" fill="#161616" >2</text>
<polyline points="1383.6,1136.0 1440.3,1136.0 1508.0,1204.2" fill="none" stroke="#3a3a3a" stroke-width="0.9" />
<polygon points="1508.0,1204.2 1493.0,1198.0 1501.9,1189.1" fill="#161616"/>
<polyline points="1317.1,1212.9 1377.5,1212.9 1478.5,1324.9" fill="none" stroke="#3a3a3a" stroke-width="0.9" />
<polygon points="1478.5,1324.9 1463.8,1318.0 1473.1,1309.5" fill="#161616"/>
<polyline points="1265.4,1258.0 1323.3,1258.0 1391.0,1326.2" fill="none" stroke="#3a3a3a" stroke-width="0.9" />
<polygon points="1391.0,1326.2 1376.0,1320.0 1384.9,1311.1" fill="#161616"/>
<circle cx="74.4" cy="1302.3" r="24.4" fill="none" stroke="#161616" stroke-width="1.1"/>
<text x="74.9" y="1311.3" font-family="Liberation Serif" font-size="37" font-weight="bold" font-style="normal" text-anchor="middle" fill="#161616" >A</text>
<text x="117.2" y="1310.9" font-family="Liberation Serif" font-size="27.65" font-weight="normal" font-style="italic" text-anchor="start" fill="#161616" >–</text>
<text x="137.9" y="1309.9" font-family="Liberation Serif" font-size="27.65" font-weight="bold" font-style="italic" text-anchor="start" fill="#161616" textLength="240.2" lengthAdjust="spacingAndGlyphs" >Вывод канализации</text>
<text x="378.1" y="1309.9" font-family="Liberation Serif" font-size="27.65" font-weight="normal" font-style="italic" text-anchor="start" fill="#161616" textLength="624.6" lengthAdjust="spacingAndGlyphs" > устраивается в уровень с полом из стены (рис. А-1)</text>
<rect x="137.9" y="1313.3" width="865.5" height="2.2" fill="#161616"/>
<text x="145.3" y="1347.6" font-family="Liberation Serif" font-size="27.65" font-weight="normal" font-style="italic" text-anchor="start" fill="#161616" textLength="137.0" lengthAdjust="spacingAndGlyphs" >или из пола </text>
<text x="285.7" y="1347.6" font-family="Liberation Serif" font-size="33.5" font-weight="normal" font-style="italic" text-anchor="start" fill="#161616" textLength="133.0" lengthAdjust="spacingAndGlyphs" >(рис. А-2)</text>
<text x="426.0" y="1347.6" font-family="Liberation Serif" font-size="27.65" font-weight="normal" font-style="italic" text-anchor="start" fill="#161616" textLength="327.3" lengthAdjust="spacingAndGlyphs" >под срез кафельной плитки.</text>
<rect x="145.3" y="1351" width="273.3" height="2.2" fill="#161616"/>
<rect x="426" y="1351" width="327.3" height="2.2" fill="#161616"/>
<text x="103.6" y="1381.6" font-family="Liberation Sans" font-size="27.65" font-weight="normal" font-style="normal" text-anchor="start" fill="#161616" textLength="1001.6" lengthAdjust="spacingAndGlyphs" >Если высота канализации не позволяет вывести на данную высоту вывод, то</text>
<text x="106.6" y="1413.0" font-family="Liberation Sans" font-size="27.65" font-weight="normal" font-style="normal" text-anchor="start" fill="#161616" textLength="1073.0" lengthAdjust="spacingAndGlyphs" >изготавливается подиум. Высота подиума зависит от высоты вывода канализации.</text>
<circle cx="60.3" cy="1353.0" r="0.8" fill="#555" stroke="none" stroke-width="0"/>
<circle cx="60.3" cy="1384.5" r="0.8" fill="#555" stroke="none" stroke-width="0"/>
<circle cx="68.5" cy="1449.9" r="24.4" fill="none" stroke="#161616" stroke-width="1.1"/>
<text x="72.7" y="1464.7" font-family="Liberation Sans" font-size="40" font-weight="bold" font-style="normal" text-anchor="middle" fill="#161616" >B</text>
<rect x="111" y="1456" width="7" height="4" fill="#161616"/>
<text x="143.4" y="1462.5" font-family="Liberation Sans" font-size="27.65" font-weight="bold" font-style="italic" text-anchor="start" fill="#161616" textLength="621.8" lengthAdjust="spacingAndGlyphs" >Вывод фитингов горячей и холодной воды.</text>
<rect x="143.4" y="1466.6" width="639.2" height="2.4" fill="#161616"/>
<text x="49.2" y="1499.4" font-family="Liberation Sans" font-size="27.65" font-weight="normal" font-style="normal" text-anchor="start" fill="#161616" textLength="726.0" lengthAdjust="spacingAndGlyphs" >Устанавливается угольник с бортиками,  если коллектор</text>
<text x="49.2" y="1529.7" font-family="Liberation Sans" font-size="27.65" font-weight="normal" font-style="normal" text-anchor="start" fill="#161616" textLength="792.5" lengthAdjust="spacingAndGlyphs" >в техническом шкафу имеет собственные вентили ( Рис.В-1)</text>
<rect x="725.3" y="1531.8" width="116.4" height="1.8" fill="#161616"/>
<text x="924.1" y="1499.4" font-family="Liberation Sans" font-size="27.65" font-weight="normal" font-style="normal" text-anchor="start" fill="#161616" textLength="697.8" lengthAdjust="spacingAndGlyphs" >или  устанавливаются угловые краны, если коллектор</text>
<text x="925.5" y="1529.7" font-family="Liberation Sans" font-size="27.65" font-weight="normal" font-style="normal" text-anchor="start" fill="#161616" textLength="552.5" lengthAdjust="spacingAndGlyphs" >не имеет собственных вентилей ( Рис.В-2)</text>
<rect x="1357.3" y="1531.8" width="120.7" height="1.8" fill="#161616"/>
<rect x="45.5" y="1536.5" width="425.0" height="365.0" fill="none" stroke="#5e5e5e" stroke-width="1.0"/>
<text x="52.2" y="1562.7" font-family="Liberation Serif" font-size="26.5" font-weight="normal" font-style="normal" text-anchor="start" fill="#161616" textLength="88.6" lengthAdjust="spacingAndGlyphs" >Рис.В-1</text>
<line x1="293.6" y1="1591.3" x2="423.7" y2="1685.9" stroke="#151515" stroke-width="2.3" />
<line x1="329.1" y1="1592.8" x2="423.7" y2="1661.3" stroke="#151515" stroke-width="1.8" />
<line x1="361.6" y1="1592.8" x2="423.7" y2="1637.1" stroke="#151515" stroke-width="1.3" />
<line x1="395.1" y1="1593.3" x2="423.7" y2="1612.5" stroke="#151515" stroke-width="0.8" />
<line x1="281.8" y1="1606.6" x2="423.7" y2="1709.1" stroke="#151515" stroke-width="2.4" />
<line x1="281.8" y1="1630.7" x2="392.2" y2="1711.1" stroke="#151515" stroke-width="1.9" />
<line x1="281.8" y1="1653.9" x2="360.6" y2="1711.1" stroke="#151515" stroke-width="1.3" />
<line x1="281.8" y1="1678.0" x2="327.1" y2="1711.1" stroke="#151515" stroke-width="0.9" />
<clipPath id="h5"><polygon points="281.0,1749.0 331.0,1749.0 331.0,1874.0 281.0,1840.0"/></clipPath><g clip-path="url(#h5)" stroke="#333" stroke-width="0.9"><line x1="287.3" y1="1691.6" x2="425.4" y2="1789.7"/><line x1="277.2" y1="1705.7" x2="415.3" y2="1803.9"/><line x1="267.1" y1="1719.9" x2="405.3" y2="1818.1"/><line x1="257.1" y1="1734.1" x2="395.2" y2="1832.3"/><line x1="247.0" y1="1748.3" x2="385.1" y2="1846.4"/><line x1="236.9" y1="1762.5" x2="375.0" y2="1860.6"/><line x1="226.8" y1="1776.7" x2="364.9" y2="1874.8"/><line x1="216.8" y1="1790.8" x2="354.9" y2="1889.0"/><line x1="206.7" y1="1805.0" x2="344.8" y2="1903.2"/><line x1="196.6" y1="1819.2" x2="334.7" y2="1917.4"/></g>
<clipPath id="h6"><polygon points="369.4,1749.0 423.5,1749.0 423.5,1822.0 435.9,1830.0 435.9,1890.0 418.0,1890.0 369.4,1859.0"/></clipPath><g clip-path="url(#h6)" stroke="#333" stroke-width="0.9"><line x1="388.6" y1="1674.8" x2="543.9" y2="1785.2"/><line x1="378.6" y1="1689.0" x2="533.9" y2="1799.3"/><line x1="368.6" y1="1703.1" x2="523.8" y2="1813.4"/><line x1="358.5" y1="1717.2" x2="513.8" y2="1827.5"/><line x1="348.5" y1="1731.3" x2="503.8" y2="1841.6"/><line x1="338.5" y1="1745.4" x2="493.8" y2="1855.7"/><line x1="328.5" y1="1759.5" x2="483.7" y2="1869.8"/><line x1="318.4" y1="1773.6" x2="473.7" y2="1883.9"/><line x1="308.4" y1="1787.7" x2="463.7" y2="1898.0"/><line x1="298.4" y1="1801.8" x2="453.7" y2="1912.1"/><line x1="288.4" y1="1815.9" x2="443.7" y2="1926.2"/><line x1="278.4" y1="1830.0" x2="433.6" y2="1940.3"/></g>
<line x1="270.5" y1="1589.6" x2="270.5" y2="1898.0" stroke="#161616" stroke-width="2.6" />
<line x1="280.8" y1="1589.6" x2="280.8" y2="1898.0" stroke="#161616" stroke-width="2.6" />
<path d="M271.8,1591.0 L279.5,1602.0 M279.5,1591.0 L271.8,1602.0 M271.8,1602.0 L279.5,1613.0 M279.5,1602.0 L271.8,1613.0 M271.8,1613.0 L279.5,1624.0 M279.5,1613.0 L271.8,1624.0 M271.8,1624.0 L279.5,1635.0 M279.5,1624.0 L271.8,1635.0 M271.8,1635.0 L279.5,1646.0 M279.5,1635.0 L271.8,1646.0 M271.8,1646.0 L279.5,1657.0 M279.5,1646.0 L271.8,1657.0 M271.8,1657.0 L279.5,1668.0 M279.5,1657.0 L271.8,1668.0 M271.8,1668.0 L279.5,1679.0 M279.5,1668.0 L271.8,1679.0 M271.8,1679.0 L279.5,1690.0 M279.5,1679.0 L271.8,1690.0 M271.8,1690.0 L279.5,1701.0 M279.5,1690.0 L271.8,1701.0 M271.8,1701.0 L279.5,1712.0 M279.5,1701.0 L271.8,1712.0 M271.8,1712.0 L279.5,1723.0 M279.5,1712.0 L271.8,1723.0 M271.8,1723.0 L279.5,1734.0 M279.5,1723.0 L271.8,1734.0 M271.8,1734.0 L279.5,1745.0 M279.5,1734.0 L271.8,1745.0 M271.8,1745.0 L279.5,1756.0 M279.5,1745.0 L271.8,1756.0 M271.8,1756.0 L279.5,1767.0 M279.5,1756.0 L271.8,1767.0 M271.8,1767.0 L279.5,1778.0 M279.5,1767.0 L271.8,1778.0 M271.8,1778.0 L279.5,1789.0 M279.5,1778.0 L271.8,1789.0 M271.8,1789.0 L279.5,1800.0 M279.5,1789.0 L271.8,1800.0 M271.8,1800.0 L279.5,1811.0 M279.5,1800.0 L271.8,1811.0 M271.8,1811.0 L279.5,1822.0 M279.5,1811.0 L271.8,1822.0 M271.8,1822.0 L279.5,1833.0 M279.5,1822.0 L271.8,1833.0 M271.8,1833.0 L279.5,1844.0 M279.5,1833.0 L271.8,1844.0 M271.8,1844.0 L279.5,1855.0 M279.5,1844.0 L271.8,1855.0 M271.8,1855.0 L279.5,1866.0 M279.5,1855.0 L271.8,1866.0 M271.8,1866.0 L279.5,1877.0 M279.5,1866.0 L271.8,1877.0 M271.8,1877.0 L279.5,1888.0 M279.5,1877.0 L271.8,1888.0 M271.8,1888.0 L279.5,1896.0 M279.5,1888.0 L271.8,1896.0" stroke="#7a7a7a" stroke-width="0.7" fill="none"/>
<rect x="262" y="1704" width="36" height="54" fill="#fff"/>
<line x1="296.0" y1="1712.9" x2="423.5" y2="1712.9" stroke="#161616" stroke-width="3.6" />
<polyline points="296.0,1748.9 332.0,1748.9 332.0,1887.0" fill="none" stroke="#161616" stroke-width="3.2" />
<polyline points="423.5,1748.9 369.4,1748.9 369.4,1887.0" fill="none" stroke="#161616" stroke-width="3.2" />
<rect x="265.5" y="1707.3" width="30.5" height="48.5" fill="#fff" stroke="#161616" stroke-width="3.2"/>
<rect x="259.4" y="1704.6" width="4.7" height="54.0" fill="#fff" stroke="#161616" stroke-width="1.4"/>
<path d="M259,1712.9 H198 C180,1712.9 166,1724 166,1742 V1771" fill="none" stroke="#161616" stroke-width="3.2"/>
<path d="M259,1747.5 H234 C222,1747.5 216.2,1754 216.2,1766 V1771" fill="none" stroke="#161616" stroke-width="3.2"/>
<rect x="156.1" y="1771.0" width="70.1" height="9.8" fill="none" stroke="#161616" stroke-width="3.2"/>
<rect x="164.4" y="1780.8" width="54.0" height="26.3" fill="none" stroke="#161616" stroke-width="3.4"/>
<clipPath id="h7"><polygon points="166.0,1783.0 217.0,1783.0 217.0,1805.0 166.0,1805.0"/></clipPath><g clip-path="url(#h7)" stroke="#444" stroke-width="0.8"><line x1="150.1" y1="1770.1" x2="215.4" y2="1752.6"/><line x1="151.7" y1="1775.9" x2="216.9" y2="1758.4"/><line x1="153.2" y1="1781.7" x2="218.5" y2="1764.2"/><line x1="154.8" y1="1787.5" x2="220.0" y2="1770.0"/><line x1="156.4" y1="1793.3" x2="221.6" y2="1775.8"/><line x1="157.9" y1="1799.1" x2="223.1" y2="1781.6"/><line x1="159.5" y1="1804.9" x2="224.7" y2="1787.4"/><line x1="161.0" y1="1810.7" x2="226.3" y2="1793.2"/><line x1="162.6" y1="1816.5" x2="227.8" y2="1799.0"/><line x1="164.1" y1="1822.3" x2="229.4" y2="1804.8"/><line x1="165.7" y1="1828.1" x2="230.9" y2="1810.6"/><line x1="167.2" y1="1833.9" x2="232.5" y2="1816.4"/></g>
<rect x="156.1" y="1812.6" width="71.2" height="25.0" fill="none" stroke="#161616" stroke-width="3.6"/>
<path d="M175,1815 C182,1820 182,1830 175,1836 M208,1815 C201,1820 201,1830 208,1836" fill="none" stroke="#666" stroke-width="0.8"/>
<path d="M165.8,1838 C172,1858 157,1876 161.6,1901 M221.2,1838 C227,1860 213,1880 218.4,1901" fill="none" stroke="#161616" stroke-width="3"/>
<rect x="324.3" y="1788.5" width="55.4" height="24.1" fill="#fff" stroke="#161616" stroke-width="3.2"/>
<path d="M336,1791 C341,1796 341,1806 336,1811 M368,1791 C363,1796 363,1806 368,1811" fill="none" stroke="#666" stroke-width="0.8"/>
<line x1="352.0" y1="1870.0" x2="352.0" y2="1826.0" stroke="#161616" stroke-width="1.0" />
<polygon points="352.0,1814.8 357.0,1826.8 347.0,1826.8" fill="#161616"/>
<line x1="174.0" y1="1730.0" x2="454.0" y2="1730.0" stroke="#2a2a2a" stroke-width="1.1" stroke-dasharray="4 8 1.5 8"/>
<line x1="191.5" y1="1705.0" x2="191.5" y2="1800.0" stroke="#2a2a2a" stroke-width="1.1" stroke-dasharray="4 8 1.5 8"/>
<line x1="352.0" y1="1695.0" x2="352.0" y2="1790.0" stroke="#2a2a2a" stroke-width="1.1" stroke-dasharray="4 8 1.5 8"/>
<line x1="423.5" y1="1595.0" x2="423.5" y2="1890.0" stroke="#161616" stroke-width="1.3" />
<line x1="434.5" y1="1552.0" x2="434.5" y2="1890.0" stroke="#161616" stroke-width="1.0" />
<line x1="423.5" y1="1595.0" x2="434.5" y2="1595.0" stroke="#161616" stroke-width="1.0" />
<line x1="405.4" y1="1614.5" x2="441.5" y2="1614.5" stroke="#161616" stroke-width="3" />
<line x1="406.0" y1="1609.5" x2="406.0" y2="1621.0" stroke="#161616" stroke-width="4" />
<line x1="420.7" y1="1815.4" x2="458.0" y2="1815.4" stroke="#161616" stroke-width="3" />
<line x1="421.3" y1="1810.4" x2="421.3" y2="1822.0" stroke="#161616" stroke-width="4" />
<polygon points="462.5,1581.3 453.5,1586.8 462.5,1592.3" fill="none" stroke="#161616" stroke-width="1.2" />
<polygon points="462.5,1647.8 453.5,1653.3 462.5,1658.8" fill="none" stroke="#161616" stroke-width="1.2" />
<polygon points="462.5,1715.1 453.5,1720.6 462.5,1726.1" fill="none" stroke="#161616" stroke-width="1.2" />
<polygon points="462.5,1789.1 453.5,1794.6 462.5,1800.1" fill="none" stroke="#161616" stroke-width="1.2" />
<polygon points="462.5,1855.6 453.5,1861.1 462.5,1866.6" fill="none" stroke="#161616" stroke-width="1.2" />
<circle cx="443.4" cy="1621.4" r="3.2" fill="none" stroke="#161616" stroke-width="1.1"/>
<circle cx="443.4" cy="1685.2" r="3.2" fill="none" stroke="#161616" stroke-width="1.1"/>
<circle cx="443.4" cy="1755.8" r="3.2" fill="none" stroke="#161616" stroke-width="1.1"/>
<circle cx="443.4" cy="1823.7" r="3.2" fill="none" stroke="#161616" stroke-width="1.1"/>
<text x="182.0" y="1659.0" font-family="Liberation Serif" font-size="42" font-weight="bold" font-style="normal" text-anchor="start" fill="#161616" textLength="33.0" lengthAdjust="spacingAndGlyphs" >½</text>
<text x="218.0" y="1634.0" font-family="Liberation Serif" font-size="16" font-weight="normal" font-style="normal" text-anchor="start" fill="#161616" >″</text>
<polyline points="182.4,1665.8 218.4,1665.8 258.6,1706.0" fill="none" stroke="#3a3a3a" stroke-width="0.9" />
<polygon points="258.6,1706.0 240.9,1698.2 250.8,1688.3" fill="#161616"/>
<polyline points="250.3,1870.0 250.3,1792.0 268.3,1775.2" fill="none" stroke="#3a3a3a" stroke-width="0.9" />
<polygon points="268.3,1775.2 261.0,1790.9 252.2,1781.4" fill="#161616"/>
<text x="250.0" y="1830.0" font-family="Liberation Sans" font-size="16" font-weight="normal" font-style="normal" text-anchor="middle" fill="#161616" textLength="80.0" lengthAdjust="spacingAndGlyphs" transform="rotate(-90.00 250.0 1830.0)" >NOAI AI EEOOA</text>
<text x="202.0" y="1870.0" font-family="Liberation Sans" font-size="16" font-weight="normal" font-style="normal" text-anchor="middle" fill="#161616" textLength="55.0" lengthAdjust="spacingAndGlyphs" transform="rotate(-90.00 202.0 1870.0)" >II AAI AEA</text>
<text x="350.0" y="1859.0" font-family="Liberation Sans" font-size="16" font-weight="normal" font-style="normal" text-anchor="middle" fill="#161616" textLength="38.0" lengthAdjust="spacingAndGlyphs" transform="rotate(-90.00 350.0 1859.0)" >AI AA</text>
<rect x="875.5" y="1537.5" width="421.0" height="362.0" fill="none" stroke="#5e5e5e" stroke-width="1.0"/>
<text x="883.6" y="1565.5" font-family="Liberation Serif" font-size="26.5" font-weight="normal" font-style="normal" text-anchor="start" fill="#161616" textLength="88.6" lengthAdjust="spacingAndGlyphs" >Рис.В-2</text>
<clipPath id="h8"><polygon points="1107.0,1592.0 1250.7,1592.0 1250.7,1713.0 1107.0,1713.0"/></clipPath><g clip-path="url(#h8)" stroke="#333" stroke-width="1.0"><line x1="1163.0" y1="1481.7" x2="1346.2" y2="1614.8"/><line x1="1151.7" y1="1497.3" x2="1334.9" y2="1630.4"/><line x1="1140.3" y1="1512.9" x2="1323.5" y2="1646.0"/><line x1="1129.0" y1="1528.5" x2="1312.2" y2="1661.6"/><line x1="1117.6" y1="1544.1" x2="1300.8" y2="1677.2"/><line x1="1106.3" y1="1559.7" x2="1289.5" y2="1692.8"/><line x1="1095.0" y1="1575.3" x2="1278.2" y2="1708.4"/><line x1="1083.6" y1="1591.0" x2="1266.8" y2="1724.1"/><line x1="1072.3" y1="1606.6" x2="1255.5" y2="1739.7"/><line x1="1060.9" y1="1622.2" x2="1244.1" y2="1755.3"/><line x1="1049.6" y1="1637.8" x2="1232.8" y2="1770.9"/><line x1="1038.2" y1="1653.4" x2="1221.4" y2="1786.5"/><line x1="1026.9" y1="1669.0" x2="1210.1" y2="1802.1"/></g>
<clipPath id="h9"><polygon points="1107.4,1749.0 1160.6,1749.0 1160.6,1854.0 1107.4,1819.0"/></clipPath><g clip-path="url(#h9)" stroke="#333" stroke-width="1.0"><line x1="1116.8" y1="1694.4" x2="1240.8" y2="1782.6"/><line x1="1106.8" y1="1708.5" x2="1230.8" y2="1796.6"/><line x1="1096.9" y1="1722.5" x2="1220.8" y2="1810.6"/><line x1="1086.9" y1="1736.5" x2="1210.9" y2="1824.6"/><line x1="1076.9" y1="1750.5" x2="1200.9" y2="1838.6"/><line x1="1067.0" y1="1764.5" x2="1190.9" y2="1852.7"/><line x1="1057.0" y1="1778.6" x2="1181.0" y2="1866.7"/><line x1="1047.0" y1="1792.6" x2="1171.0" y2="1880.7"/><line x1="1037.1" y1="1806.6" x2="1161.1" y2="1894.7"/></g>
<clipPath id="h10"><polygon points="1198.0,1749.0 1250.7,1749.0 1250.7,1825.0 1242.0,1830.0 1242.0,1867.0 1198.0,1837.0"/></clipPath><g clip-path="url(#h10)" stroke="#333" stroke-width="1.0"><line x1="1206.2" y1="1692.5" x2="1339.4" y2="1787.2"/><line x1="1196.3" y1="1706.5" x2="1329.5" y2="1801.1"/><line x1="1186.4" y1="1720.4" x2="1319.6" y2="1815.1"/><line x1="1176.5" y1="1734.3" x2="1309.7" y2="1829.0"/><line x1="1166.5" y1="1748.3" x2="1299.8" y2="1842.9"/><line x1="1156.6" y1="1762.2" x2="1289.9" y2="1856.9"/><line x1="1146.7" y1="1776.2" x2="1280.0" y2="1870.8"/><line x1="1136.8" y1="1790.1" x2="1270.0" y2="1884.8"/><line x1="1126.9" y1="1804.0" x2="1260.1" y2="1898.7"/><line x1="1117.0" y1="1818.0" x2="1250.2" y2="1912.6"/></g>
<line x1="1097.7" y1="1591.0" x2="1097.7" y2="1824.0" stroke="#161616" stroke-width="2.6" />
<line x1="1107.4" y1="1591.0" x2="1107.4" y2="1824.0" stroke="#161616" stroke-width="2.6" />
<path d="M1099.0,1593.0 L1106.0,1604.0 M1106.0,1593.0 L1099.0,1604.0 M1099.0,1604.0 L1106.0,1615.0 M1106.0,1604.0 L1099.0,1615.0 M1099.0,1615.0 L1106.0,1626.0 M1106.0,1615.0 L1099.0,1626.0 M1099.0,1626.0 L1106.0,1637.0 M1106.0,1626.0 L1099.0,1637.0 M1099.0,1637.0 L1106.0,1648.0 M1106.0,1637.0 L1099.0,1648.0 M1099.0,1648.0 L1106.0,1659.0 M1106.0,1648.0 L1099.0,1659.0 M1099.0,1659.0 L1106.0,1670.0 M1106.0,1659.0 L1099.0,1670.0 M1099.0,1670.0 L1106.0,1681.0 M1106.0,1670.0 L1099.0,1681.0 M1099.0,1681.0 L1106.0,1692.0 M1106.0,1681.0 L1099.0,1692.0 M1099.0,1692.0 L1106.0,1703.0 M1106.0,1692.0 L1099.0,1703.0 M1099.0,1703.0 L1106.0,1714.0 M1106.0,1703.0 L1099.0,1714.0 M1099.0,1714.0 L1106.0,1725.0 M1106.0,1714.0 L1099.0,1725.0 M1099.0,1725.0 L1106.0,1736.0 M1106.0,1725.0 L1099.0,1736.0 M1099.0,1736.0 L1106.0,1747.0 M1106.0,1736.0 L1099.0,1747.0 M1099.0,1747.0 L1106.0,1758.0 M1106.0,1747.0 L1099.0,1758.0 M1099.0,1758.0 L1106.0,1769.0 M1106.0,1758.0 L1099.0,1769.0 M1099.0,1769.0 L1106.0,1780.0 M1106.0,1769.0 L1099.0,1780.0 M1099.0,1780.0 L1106.0,1791.0 M1106.0,1780.0 L1099.0,1791.0 M1099.0,1791.0 L1106.0,1802.0 M1106.0,1791.0 L1099.0,1802.0 M1099.0,1802.0 L1106.0,1813.0 M1106.0,1802.0 L1099.0,1813.0 M1099.0,1813.0 L1106.0,1822.0 M1106.0,1813.0 L1099.0,1822.0" stroke="#7a7a7a" stroke-width="0.7" fill="none"/>
<rect x="1090" y="1707" width="34" height="50" fill="#fff"/>
<line x1="965.3" y1="1714.3" x2="1250.7" y2="1714.3" stroke="#161616" stroke-width="3.2" />
<line x1="965.3" y1="1748.9" x2="1001.3" y2="1748.9" stroke="#161616" stroke-width="3.2" />
<polyline points="1001.3,1748.9 1001.3,1779.4" fill="none" stroke="#161616" stroke-width="3.2" />
<polyline points="1037.3,1779.4 1037.3,1748.9 1092.8,1748.9" fill="none" stroke="#161616" stroke-width="3.2" />
<polyline points="1121.8,1748.9 1160.6,1748.9 1160.6,1874.4" fill="none" stroke="#161616" stroke-width="3.2" />
<polyline points="1250.7,1748.9 1198.0,1748.9 1198.0,1880.0" fill="none" stroke="#161616" stroke-width="3.2" />
<rect x="1092.8" y="1709.6" width="29.0" height="44.8" fill="#fff" stroke="#161616" stroke-width="3.2"/>
<rect x="952.8" y="1685.2" width="11.9" height="93.6" fill="#fff" stroke="#161616" stroke-width="3.0"/>
<rect x="926.5" y="1720.6" width="26.3" height="22.2" fill="#fff" stroke="#161616" stroke-width="3.0"/>
<rect x="994.4" y="1779.4" width="49.9" height="27.7" fill="#fff" stroke="#161616" stroke-width="3.0"/>
<clipPath id="h11"><polygon points="996.0,1781.0 1043.0,1781.0 1043.0,1805.5 996.0,1805.5"/></clipPath><g clip-path="url(#h11)" stroke="#444" stroke-width="0.8"><line x1="979.7" y1="1770.3" x2="1042.5" y2="1753.4"/><line x1="981.2" y1="1776.1" x2="1044.0" y2="1759.2"/><line x1="982.8" y1="1781.9" x2="1045.6" y2="1765.0"/><line x1="984.4" y1="1787.7" x2="1047.1" y2="1770.8"/><line x1="985.9" y1="1793.5" x2="1048.7" y2="1776.6"/><line x1="987.5" y1="1799.2" x2="1050.2" y2="1782.4"/><line x1="989.0" y1="1805.0" x2="1051.8" y2="1788.2"/><line x1="990.6" y1="1810.8" x2="1053.4" y2="1794.0"/><line x1="992.1" y1="1816.6" x2="1054.9" y2="1799.8"/><line x1="993.7" y1="1822.4" x2="1056.5" y2="1805.6"/><line x1="995.2" y1="1828.2" x2="1058.0" y2="1811.4"/></g>
<rect x="1152.3" y="1789.9" width="54.6" height="22.2" fill="#fff" stroke="#161616" stroke-width="3.2"/>
<path d="M1165,1792 C1170,1797 1170,1805 1165,1810 M1194,1792 C1189,1797 1189,1805 1194,1810" fill="none" stroke="#666" stroke-width="0.8"/>
<line x1="1178.6" y1="1870.0" x2="1178.6" y2="1826.0" stroke="#161616" stroke-width="1.0" />
<polygon points="1178.6,1814.5 1183.6,1826.5 1173.6,1826.5" fill="#161616"/>
<line x1="890.5" y1="1730.9" x2="1284.0" y2="1730.9" stroke="#2a2a2a" stroke-width="1.1" stroke-dasharray="4 8 1.5 8"/>
<line x1="1019.3" y1="1674.0" x2="1019.3" y2="1779.0" stroke="#2a2a2a" stroke-width="1.1" stroke-dasharray="4 8 1.5 8"/>
<line x1="1178.6" y1="1720.0" x2="1178.6" y2="1790.0" stroke="#2a2a2a" stroke-width="1.1" stroke-dasharray="4 8 1.5 8"/>
<line x1="1250.7" y1="1597.9" x2="1250.7" y2="1823.7" stroke="#161616" stroke-width="1.3" />
<line x1="1262.3" y1="1561.9" x2="1262.3" y2="1878.5" stroke="#161616" stroke-width="1.0" />
<line x1="1250.7" y1="1597.9" x2="1262.3" y2="1597.9" stroke="#161616" stroke-width="1.0" />
<line x1="1250.7" y1="1823.7" x2="1262.3" y2="1823.7" stroke="#161616" stroke-width="1.0" />
<line x1="1232.7" y1="1616.4" x2="1269.5" y2="1616.4" stroke="#161616" stroke-width="3" />
<line x1="1233.3" y1="1611.4" x2="1233.3" y2="1623.0" stroke="#161616" stroke-width="4" />
<line x1="1247.9" y1="1814.8" x2="1284.0" y2="1814.8" stroke="#161616" stroke-width="3" />
<line x1="1248.5" y1="1809.8" x2="1248.5" y2="1821.4" stroke="#161616" stroke-width="4" />
<polygon points="1288.5,1582.7 1279.5,1588.2 1288.5,1593.7" fill="none" stroke="#161616" stroke-width="1.2" />
<polygon points="1288.5,1648.6 1279.5,1654.1 1288.5,1659.6" fill="none" stroke="#161616" stroke-width="1.2" />
<polygon points="1288.5,1715.7 1279.5,1721.2 1288.5,1726.7" fill="none" stroke="#161616" stroke-width="1.2" />
<polygon points="1288.5,1789.1 1279.5,1794.6 1288.5,1800.1" fill="none" stroke="#161616" stroke-width="1.2" />
<polygon points="1288.5,1855.6 1279.5,1861.1 1288.5,1866.6" fill="none" stroke="#161616" stroke-width="1.2" />
<circle cx="1268.7" cy="1623.4" r="3.2" fill="none" stroke="#161616" stroke-width="1.1"/>
<circle cx="1268.7" cy="1685.7" r="3.2" fill="none" stroke="#161616" stroke-width="1.1"/>
<circle cx="1268.7" cy="1755.8" r="3.2" fill="none" stroke="#161616" stroke-width="1.1"/>
<circle cx="1268.7" cy="1823.7" r="3.2" fill="none" stroke="#161616" stroke-width="1.1"/>
<text x="937.0" y="1660.0" font-family="Liberation Serif" font-size="40" font-weight="bold" font-style="normal" text-anchor="start" fill="#161616" textLength="31.0" lengthAdjust="spacingAndGlyphs" >½</text>
<text x="968.0" y="1634.0" font-family="Liberation Serif" font-size="16" font-weight="normal" font-style="normal" text-anchor="start" fill="#161616" >″</text>
<text x="1005.0" y="1660.0" font-family="Liberation Serif" font-size="40" font-weight="bold" font-style="normal" text-anchor="start" fill="#161616" textLength="31.0" lengthAdjust="spacingAndGlyphs" >½</text>
<text x="1036.0" y="1634.0" font-family="Liberation Serif" font-size="16" font-weight="normal" font-style="normal" text-anchor="start" fill="#161616" >″</text>
<text x="990.0" y="1656.0" font-family="Liberation Sans" font-size="26" font-weight="normal" font-style="normal" text-anchor="middle" fill="#777" >×</text>
<text x="110.5" y="1977.5" font-family="Liberation Sans" font-size="42" font-weight="normal" font-style="normal" text-anchor="start" fill="#161616" >!</text>
<text x="130.6" y="1978.4" font-family="Liberation Sans" font-size="33.3" font-weight="bold" font-style="italic" text-anchor="start" fill="#161616" textLength="1077.7" lengthAdjust="spacingAndGlyphs" >В техническом шкафу устанавливаются редукторы давления</text>
<rect x="130.6" y="1982.3" width="1078.4" height="2.4" fill="#161616"/>
<text x="112.9" y="2019.0" font-family="Liberation Sans" font-size="33.3" font-weight="bold" font-style="italic" text-anchor="start" fill="#161616" textLength="257.9" lengthAdjust="spacingAndGlyphs" >Рраб.= 2-5 атм.</text>
<rect x="112.9" y="2022.2" width="257.9" height="2.4" fill="#161616"/>
<text x="103.0" y="2063.5" font-family="Liberation Sans" font-size="42" font-weight="normal" font-style="normal" text-anchor="start" fill="#161616" >!</text>
<text x="122.5" y="2063.3" font-family="Liberation Sans" font-size="33.3" font-weight="bold" font-style="italic" text-anchor="start" fill="#161616" textLength="1132.7" lengthAdjust="spacingAndGlyphs" >В техническом шкафу устанавливаются промывочные фильтры</text>
<rect x="122.5" y="2066.6" width="1133.4" height="2.4" fill="#161616"/>
<circle cx="94.0" cy="2107.7" r="24.0" fill="none" stroke="#161616" stroke-width="1.2"/>
<text x="97.0" y="2121.5" font-family="Liberation Sans" font-size="39" font-weight="bold" font-style="normal" text-anchor="middle" fill="#161616" >C</text>
<rect x="135.7" y="2112.6" width="7.4" height="4.4" fill="#161616"/>
<text x="175.3" y="2120.6" font-family="Liberation Sans" font-size="27.65" font-weight="bold" font-style="italic" text-anchor="start" fill="#161616" textLength="377.9" lengthAdjust="spacingAndGlyphs" >Выводы электропитания.</text>
<rect x="175.3" y="2124.3" width="378" height="2.3" fill="#161616"/>
<text x="121.0" y="2155.7" font-family="Liberation Sans" font-size="27.65" font-weight="normal" font-style="normal" text-anchor="start" fill="#161616" textLength="647.0" lengthAdjust="spacingAndGlyphs" >В электрощитке дополнительно устанавливаются:</text>
<text x="121.0" y="2187.1" font-family="Liberation Sans" font-size="27.65" font-weight="normal" font-style="normal" text-anchor="start" fill="#161616" textLength="23.0" lengthAdjust="spacingAndGlyphs" >1.</text>
<text x="144.0" y="2187.1" font-family="Liberation Sans" font-size="27.65" font-weight="bold" font-style="normal" text-anchor="start" fill="#161616" textLength="937.0" lengthAdjust="spacingAndGlyphs" >Устройство защитного отключения (УЗО)  16А с током  утечки 30 мА</text>
<rect x="143" y="2189.2" width="946" height="2.0" fill="#161616"/>
<text x="121.0" y="2217.4" font-family="Liberation Sans" font-size="27.65" font-weight="normal" font-style="normal" text-anchor="start" fill="#161616" textLength="23.0" lengthAdjust="spacingAndGlyphs" >2.</text>
<text x="144.0" y="2217.4" font-family="Liberation Sans" font-size="27.65" font-weight="bold" font-style="normal" text-anchor="start" fill="#161616" textLength="490.4" lengthAdjust="spacingAndGlyphs" > Автоматический выключатель 10А</text>
<rect x="143" y="2218.8" width="491.4" height="2.4" fill="#161616"/>
<text x="119.1" y="2253.6" font-family="Liberation Sans" font-size="27.65" font-weight="normal" font-style="normal" text-anchor="start" fill="#161616" textLength="650.9" lengthAdjust="spacingAndGlyphs" >Розетка электрическая 10А степень защиты IPX5 .</text>
<rect x="119.1" y="2256.8" width="651" height="1.8" fill="#161616"/>
<text x="121.0" y="2285.0" font-family="Liberation Sans" font-size="27.65" font-weight="normal" font-style="normal" text-anchor="start" fill="#161616" textLength="1167.1" lengthAdjust="spacingAndGlyphs" >От автоматического выключателя до розетки кабель <tspan font-weight="bold">безобрывный</tspan> сечением 3*2,5 кв.мм.</text>
<rect x="119.1" y="2287.8" width="1169" height="1.8" fill="#161616"/>
<circle cx="74.0" cy="2282.4" r="0.9" fill="#444" stroke="none" stroke-width="0"/>
<circle cx="80.3" cy="2313.5" r="0.9" fill="#444" stroke="none" stroke-width="0"/>
<circle cx="119.1" cy="2318.3" r="0.9" fill="#444" stroke="none" stroke-width="0"/>
</svg>
</body></html>
